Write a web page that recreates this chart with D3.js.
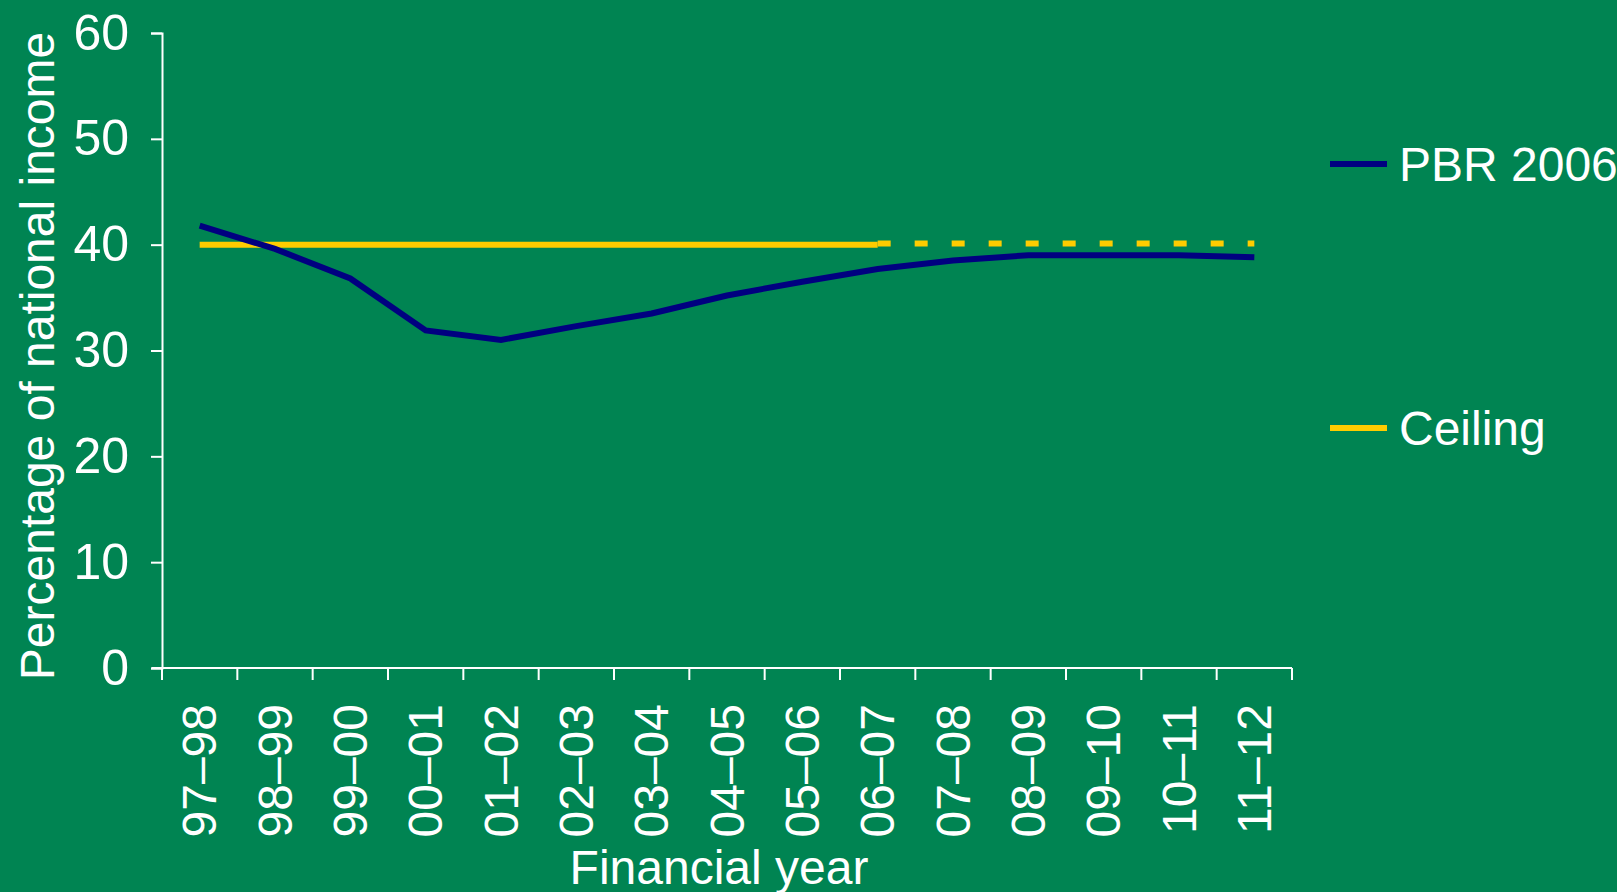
<!DOCTYPE html>
<html>
<head>
<meta charset="utf-8">
<script src="https://cdn.jsdelivr.net/npm/d3@7"></script>
<style>
  html, body { margin: 0; padding: 0; background: #008452; }
  svg { display: block; }
  text { font-family: "Liberation Sans", Arial, sans-serif; fill: #fff; }
</style>
</head>
<body>
<svg id="chart" width="1617" height="892"></svg>
<script>
// financial years (categories)
var years = ["97\u201398", "98\u201399", "99\u201300", "00\u201301", "01\u201302", "02\u201303", "03\u201304",
             "04\u201305", "05\u201306", "06\u201307", "07\u201308", "08\u201309", "09\u201310", "10\u201311", "11\u201312"];

// PBR 2006 net debt, % of national income
var pbr2006 = [41.8, 39.6, 36.8, 31.9, 31.0, 32.3, 33.5, 35.2, 36.5, 37.7, 38.5, 39.0, 39.0, 39.0, 38.8];

// ceiling: actual part up to 06-07, projected (dashed) after
var ceilingActual = [40, 40, 40, 40, 40, 40, 40, 40, 40, 40];
var ceilingProjected = [40.1, 40.1, 40.1, 40.1, 40.1, 40.1];

var yTicks = [0, 10, 20, 30, 40, 50, 60];

var svg = d3.select("#chart");

var x = d3.scaleBand().domain(years).range([162, 1292]).padding(0);
var y = d3.scaleLinear().domain([0, 60]).range([668, 33]);
var cx = function (d) { return x(d) + x.bandwidth() / 2; };

// y axis
var yAxis = svg.append("g")
  .attr("transform", "translate(162,0)")
  .call(d3.axisLeft(y).tickValues(yTicks).tickSize(11).tickPadding(22));
yAxis.select(".domain").attr("stroke", "#fff").attr("stroke-width", 2);
yAxis.selectAll(".tick line").attr("stroke", "#fff").attr("stroke-width", 2);
yAxis.selectAll(".tick text").attr("font-size", 50).attr("fill", "#fff")
  .attr("font-family", "Liberation Sans, Arial, sans-serif");

// x axis: ticks on band edges
var xAxis = svg.append("g").attr("transform", "translate(0,668)");
xAxis.append("line")
  .attr("x1", 152).attr("x2", 1292).attr("y1", 0).attr("y2", 0)
  .attr("stroke", "#fff").attr("stroke-width", 2);
var edges = years.map(function (d) { return x(d); }).concat([x(years[years.length - 1]) + x.bandwidth()]);
xAxis.selectAll("line.tk").data(edges).enter().append("line")
  .attr("class", "tk")
  .attr("x1", function (d) { return d; }).attr("x2", function (d) { return d; })
  .attr("y1", 0).attr("y2", 12)
  .attr("stroke", "#fff").attr("stroke-width", 2);
xAxis.selectAll("text").data(years).enter().append("text")
  .attr("transform", function (d) { return "translate(" + cx(d) + ",36) rotate(-90)"; })
  .attr("text-anchor", "end")
  .attr("dy", "0.35em")
  .attr("font-size", 48)
  .text(function (d) { return d; });

// axis titles
svg.append("text")
  .attr("transform", "translate(54,356) rotate(-90)")
  .attr("text-anchor", "middle")
  .attr("font-size", 48)
  .text("Percentage of national income");

svg.append("text")
  .attr("x", 719).attr("y", 884)
  .attr("text-anchor", "middle")
  .attr("font-size", 48)
  .text("Financial year");

// lines
var line = d3.line()
  .x(function (d) { return cx(d.year); })
  .y(function (d) { return y(d.value); });

function pairs(vals, offset) {
  return vals.map(function (v, i) { return { year: years[i + offset], value: v }; });
}

svg.append("path")
  .datum(pairs(ceilingActual, 0))
  .attr("d", line)
  .attr("fill", "none")
  .attr("stroke", "#FFCC00")
  .attr("stroke-width", 6);

svg.append("path")
  .datum(pairs(ceilingProjected, 9))
  .attr("d", line)
  .attr("fill", "none")
  .attr("stroke", "#FFCC00")
  .attr("stroke-width", 6)
  .attr("stroke-dasharray", "13,24");

svg.append("path")
  .datum(pairs(pbr2006, 0))
  .attr("d", line)
  .attr("fill", "none")
  .attr("stroke", "#000080")
  .attr("stroke-width", 6);

// legend
var legend = [
  { name: "PBR 2006", color: "#000080", y: 164 },
  { name: "Ceiling", color: "#FFCC00", y: 428 }
];
var lg = svg.selectAll("g.legend").data(legend).enter().append("g").attr("class", "legend");
lg.append("line")
  .attr("x1", 1330).attr("x2", 1387)
  .attr("y1", function (d) { return d.y; }).attr("y2", function (d) { return d.y; })
  .attr("stroke", function (d) { return d.color; })
  .attr("stroke-width", 6);
lg.append("text")
  .attr("x", 1399).attr("y", function (d) { return d.y; })
  .attr("dy", "0.35em")
  .attr("font-size", 48)
  .text(function (d) { return d.name; });
</script>
</body>
</html>
